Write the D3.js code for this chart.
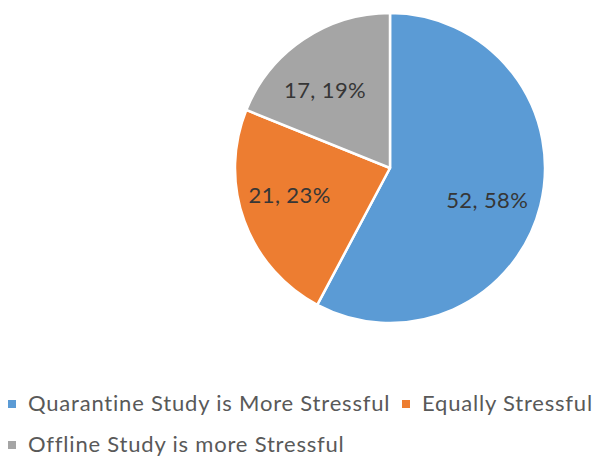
<!DOCTYPE html>
<html>
<head>
<meta charset="utf-8">
<script src="https://cdn.jsdelivr.net/npm/d3@7"></script>
<style>
  body { margin: 0; background: #fff; }
  svg { display: block; }
</style>
</head>
<body>
<div id="chart"></div>
<script>
// chart data
var categories = ["Quarantine Study is More Stressful", "Equally Stressful", "Offline Study is more Stressful"];
var counts = [52, 21, 17];
var percents = ["58%", "23%", "19%"];
var colors = ["#5b9bd5", "#ed7d31", "#a5a5a5"];

// where each label sits inside its slice (share of the slice angle, share of the radius)
var labelAngleFrac = [0.52, 0.56, 0.415];
var labelRadiusFrac = [0.66, 0.67, 0.655];

var width = 593, height = 459;
var cx = 390, cy = 168, radius = 155;

var svg = d3.select("#chart").append("svg")
  .attr("width", width)
  .attr("height", height);

var data = categories.map(function(c, i) {
  return { name: c, value: counts[i], pct: percents[i], color: colors[i] };
});

// pie starts at 12 o'clock and runs clockwise, keep order
var pie = d3.pie().sort(null).value(function(d) { return d.value; });
var arc = d3.arc().innerRadius(0).outerRadius(radius);

var g = svg.append("g").attr("transform", "translate(" + cx + "," + cy + ")");

var slices = pie(data);

g.selectAll("path")
  .data(slices)
  .enter()
  .append("path")
  .attr("d", arc)
  .attr("fill", function(d) { return d.data.color; })
  .attr("stroke", "#fff")
  .attr("stroke-width", 2.5)
  .attr("stroke-linejoin", "round");

g.selectAll("text.lbl")
  .data(slices)
  .enter()
  .append("text")
  .attr("class", "lbl")
  .attr("transform", function(d, i) {
    var a = d.startAngle + (d.endAngle - d.startAngle) * labelAngleFrac[i];
    var r = radius * labelRadiusFrac[i];
    return "translate(" + (Math.sin(a) * r) + "," + (-Math.cos(a) * r) + ")";
  })
  .attr("text-anchor", "middle")
  .attr("dy", "0.36em")
  .style("font-family", "Lato, 'Open Sans', sans-serif")
  .style("font-size", "22px")
  .style("letter-spacing", "0.4px")
  .style("fill", "#363636")
  .text(function(d) { return d.data.value + ", " + d.data.pct; });

// legend, two rows like the original
var legendRows = [
  [{ i: 0, x: 8 }, { i: 1, x: 402 }],
  [{ i: 2, x: 8 }]
];
var rowY = [411, 452];

legendRows.forEach(function(row, r) {
  row.forEach(function(item) {
    svg.append("rect")
      .attr("x", item.x)
      .attr("y", rowY[r] - 11)
      .attr("width", 8)
      .attr("height", 8)
      .attr("fill", colors[item.i]);
    svg.append("text")
      .attr("x", item.x + 20)
      .attr("y", rowY[r])
      .style("font-family", "Lato, 'Open Sans', sans-serif")
      .style("font-size", "22px")
      .style("letter-spacing", "0.8px")
      .style("fill", "#595959")
      .text(categories[item.i]);
  });
});
</script>
</body>
</html>
